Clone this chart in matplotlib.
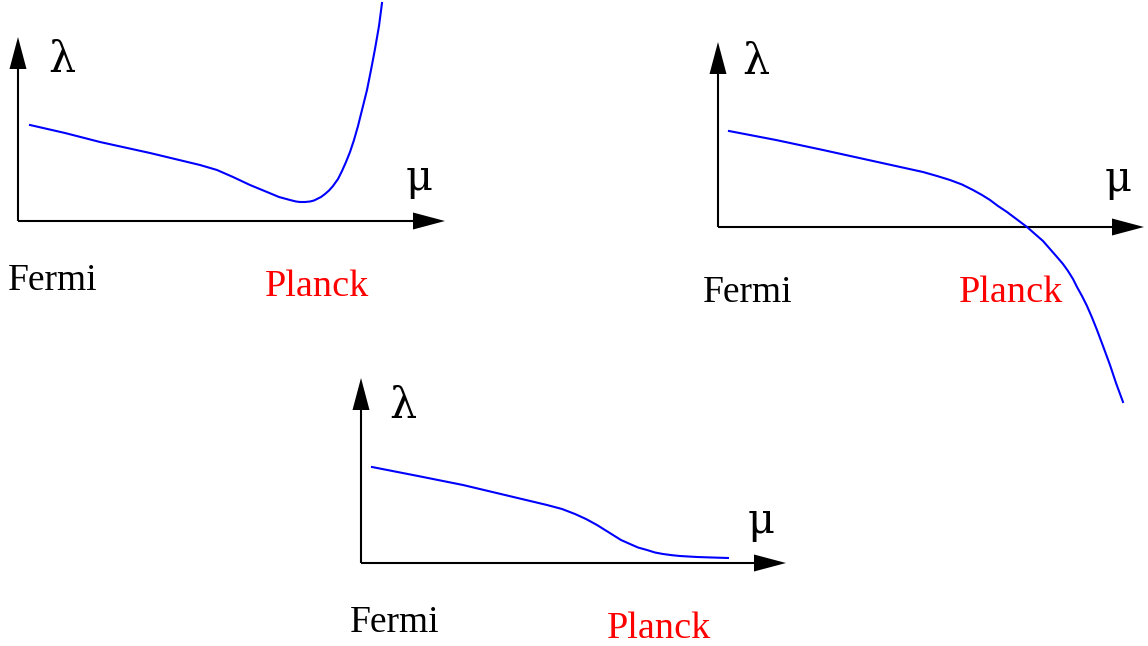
import matplotlib.pyplot as plt

# curve points (pixel coordinates, y down)
curve1_x = [30, 65, 100, 150, 200, 217, 233, 250, 267, 279, 290, 296, 300, 305, 310, 314, 317,
            321, 325, 329, 333, 338, 342, 346, 350, 354, 358, 362, 367, 371, 375, 379, 382]
curve1_y = [125, 133, 142, 153, 165, 170, 177, 185, 192, 197, 200, 201.5, 202, 202, 201.5, 200.5, 199,
            197, 194, 190.5, 186, 179, 171, 162, 152, 140, 126, 110, 90, 70, 49, 26, 3]

curve2_x = [729, 776, 823, 873, 923, 937, 950, 962, 973, 982, 990, 998, 1007, 1017, 1027,
            1035, 1043, 1050, 1057, 1063, 1068, 1073, 1077, 1082, 1087, 1092, 1097, 1103, 1110, 1116, 1123]
curve2_y = [131, 140, 150, 161, 172, 176, 180, 184.5, 190, 195, 200, 206, 212, 219.5, 227,
            234, 241, 249, 257, 264, 271, 279, 287, 296, 306, 317.5, 330, 346, 365, 383, 402]

curve3_x = [372, 418, 463, 505, 547, 562, 575, 586, 597, 605, 613, 621, 630, 638, 647, 655,
            663, 672, 680, 690, 697, 712, 728]
curve3_y = [467, 476, 485, 495, 505, 509, 514, 519, 525, 530, 535, 540, 544, 547.5, 550, 552.5,
            554, 555.2, 556, 556.6, 557, 557.5, 558]

curves = [(curve1_x, curve1_y), (curve2_x, curve2_y), (curve3_x, curve3_y)]

# panel layout: axis origin, y-axis tip, x-axis tip, label positions
panels = [
    dict(origin=(18, 221), ytip=37, xtip=445, lam=(62, 60), mu=(419, 178),
         fermi=(8, 290), planck=(265, 296)),
    dict(origin=(718, 227), ytip=42, xtip=1144, lam=(756, 62), mu=(1118, 179),
         fermi=(703, 302), planck=(959, 302)),
    dict(origin=(361, 563), ytip=378, xtip=786, lam=(403, 406), mu=(761, 521),
         fermi=(350, 632), planck=(607, 638)),
]

plt.rcParams['font.family'] = ['Liberation Serif', 'DejaVu Serif']

fig = plt.figure(figsize=(11.48, 6.46), dpi=100)
ax = fig.add_axes([0, 0, 1, 1])
ax.set_xlim(0, 1148)
ax.set_ylim(646, 0)
ax.axis('off')

head_len = 32
head_half = 8.5

for p, (cx, cy) in zip(panels, curves):
    ox, oy = p['origin']
    # y axis
    ax.plot([ox, ox], [oy, p['ytip'] + head_len], color='black', lw=1.5,
            solid_capstyle='butt')
    ax.fill([ox - head_half, ox + head_half, ox],
            [p['ytip'] + head_len, p['ytip'] + head_len, p['ytip']],
            color='black', lw=0)
    # x axis
    ax.plot([ox, p['xtip'] - head_len], [oy, oy], color='black', lw=1.5,
            solid_capstyle='butt')
    ax.fill([p['xtip'] - head_len, p['xtip'] - head_len, p['xtip']],
            [oy - head_half, oy + head_half, oy], color='black', lw=0)

    ax.plot(cx, cy, color='#0000ff', lw=1.5, solid_joinstyle='round')

    ax.text(*p['lam'], 'λ', fontsize=31, ha='center', va='center',
            family=['DejaVu Serif'])
    ax.text(*p['mu'], 'μ', fontsize=30, ha='center', va='center',
            family=['DejaVu Serif'])
    ax.text(*p['fermi'], 'Fermi', fontsize=27, ha='left', va='baseline')
    ax.text(*p['planck'], 'Planck', fontsize=27.5, ha='left', va='baseline',
            color='red')

fig.savefig('out.png', dpi=100)
